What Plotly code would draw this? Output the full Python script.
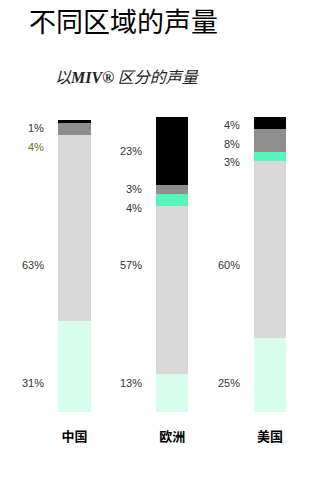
import plotly.graph_objects as go

regions = ["中国", "欧洲", "美国"]
seg_names = ["低", "中", "中高", "高", "最高"]
seg_values = [
    [31, 13, 25],   # light mint
    [63, 57, 60],   # light gray
    [0, 4, 3],      # bright green
    [4, 3, 8],      # gray
    [1, 23, 4],     # black
]
seg_colors = ["#d8fdec", "#d9d9d9", "#55f5bb", "#8e8e8e", "#000000"]

fig = go.Figure()
for name, vals, col in zip(seg_names, seg_values, seg_colors):
    fig.add_trace(go.Bar(x=regions, y=vals, name=name, marker_color=col,
                         marker_line_width=0, hoverinfo="skip"))

# label layout: the two large lower segments share fixed label rows;
# the small upper segments sit at their centres, pushed apart so they don't collide
row_levels = {0: 10, 1: 50}
min_gap = 6.3
for i in range(len(regions)):
    base = 0
    small = []
    for k, vals in enumerate(seg_values):
        v = vals[i]
        if v > 0:
            col = "#6b6b2a" if (i == 0 and k == 3) else "#333333"
            if k in row_levels:
                y = row_levels[k]
                fig.add_annotation(x=i - 0.29, y=y, text=f"{v}%", xref="x", yref="y",
                                   xanchor="right", yanchor="middle", showarrow=False,
                                   font=dict(family="Liberation Sans", size=11, color=col))
            else:
                small.append([base + v / 2, v, col])
        base += v
    # push from the top downward
    small.sort(key=lambda s: -s[0])
    prev = None
    for s in small:
        y = min(s[0], base - 2.8) if prev is None else min(s[0], prev - min_gap)
        prev = y
        fig.add_annotation(x=i - 0.29, y=y, text=f"{s[1]}%", xref="x", yref="y",
                           xanchor="right", yanchor="middle", showarrow=False,
                           font=dict(family="Liberation Sans", size=11, color=s[2]))

fig.update_layout(
    barmode="stack",
    bargap=0.67,
    width=333, height=500,
    margin=dict(l=20, r=14, t=117, b=88),
    plot_bgcolor="white", paper_bgcolor="white",
    showlegend=False,
    title=dict(text="不同区域的声量", x=29 / 333, xanchor="left", xref="container",
               y=1 - 23 / 500, yanchor="middle", yref="container",
               font=dict(family="Noto Sans CJK SC", size=27, color="#000")),
)
fig.add_annotation(
    text="<i>以<span style='font-family:Liberation Serif'><b>MIV®</b></span> 区分的声量</i>",
    xref="paper", yref="paper",
    x=(53 - 20) / 299, y=1 + (117 - 76) / 295, xanchor="left", yanchor="middle",
    showarrow=False,
    font=dict(family="Noto Sans CJK SC", size=16, color="#222"))
fig.update_xaxes(showgrid=False, showline=False, zeroline=False,
                 ticks="outside", ticklen=12, tickcolor="white",
                 tickfont=dict(family="Noto Sans CJK SC", size=13, color="#000", weight="bold"))
fig.update_yaxes(range=[0, 100], visible=False, showgrid=False)

fig.write_html("out.html")
